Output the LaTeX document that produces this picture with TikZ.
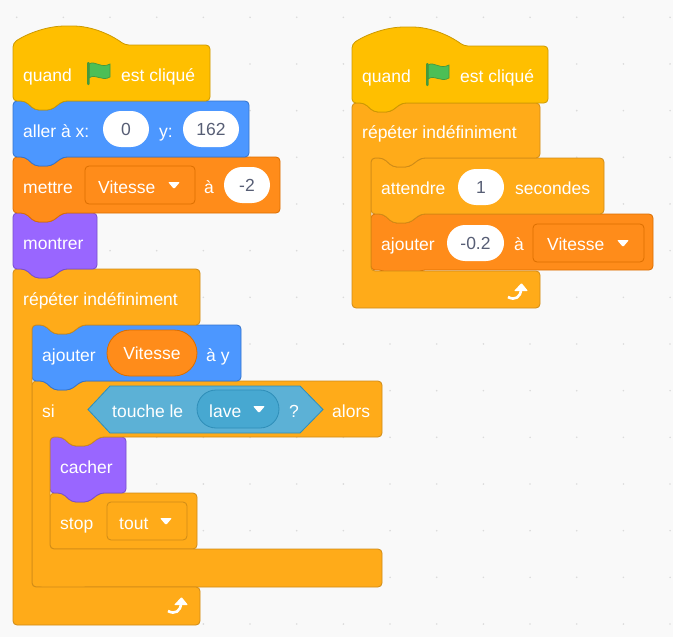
\documentclass[tikz,border=0pt]{standalone}
\usepackage{fontspec}
\setmainfont{Liberation Sans}
\usetikzlibrary{shapes.geometric}
\definecolor{hat-color}{HTML}{FFBF00}
\definecolor{hat-line}{HTML}{CC9900}
\definecolor{motion-color}{HTML}{4C97FF}
\definecolor{motion-line}{HTML}{3373CC}
\definecolor{var-color}{HTML}{FF8C1A}
\definecolor{var-line}{HTML}{DB6E00}
\definecolor{looks-color}{HTML}{9966FF}
\definecolor{looks-line}{HTML}{774DCB}
\definecolor{control-color}{HTML}{FFAB19}
\definecolor{control-line}{HTML}{CF8B17}
\definecolor{sense-color}{HTML}{5CB1D6}
\definecolor{sense-dark}{HTML}{47A8D1}
\definecolor{sense-line}{HTML}{2E8EB8}
\definecolor{value-color}{HTML}{575E75}
\tikzstyle{hatblock} = [fill=hat-color, draw=hat-line, line width=0.8pt]
\tikzstyle{motionblock} = [fill=motion-color, draw=motion-line, line width=0.8pt]
\tikzstyle{varblock} = [fill=var-color, draw=var-line, line width=0.8pt]
\tikzstyle{looksblock} = [fill=looks-color, draw=looks-line, line width=0.8pt]
\tikzstyle{controlblock} = [fill=control-color, draw=control-line, line width=0.8pt]
\tikzstyle{blocktext} = [anchor=base west, inner sep=0pt, text=white, font=\fontsize{17.5}{20}\selectfont]
\tikzstyle{numfield} = [rectangle, rounded corners=18pt, fill=white, minimum height=36pt, inner sep=0pt, text=value-color, font=\fontsize{17.5}{20}\selectfont, text height=12.5pt, text depth=0pt]
\tikzstyle{varfield} = [numfield, fill=var-color, draw=var-line, text=white, line width=0.8pt, minimum height=46pt, rounded corners=23pt]
\tikzstyle{menubox} = [rectangle, rounded corners=4pt, line width=0.8pt, minimum height=38pt, inner sep=0pt]
\newcommand{\notchedge}[2]{-- (#1+12,#2) -- (#1+22,#2+9) -- (#1+38,#2+9) -- (#1+50,#2)}
\newcommand{\tabedge}[2]{-- (#1+50,#2) -- (#1+38,#2+9) -- (#1+22,#2+9) -- (#1+12,#2)}
\newcommand{\stackblock}[5]{\draw[#5, rounded corners=4pt] (#1,#2) \notchedge{#1}{#2} -- (#3,#2) -- (#3,#4) \tabedge{#1}{#4} -- (#1,#4) -- cycle;}
\newcommand{\capblock}[5]{\draw[#5, rounded corners=4pt] (#1,#2) \notchedge{#1}{#2} -- (#3,#2) -- (#3,#4) -- (#1,#4) -- cycle;}
\newcommand{\hatshape}[5]{\draw[#5, rounded corners=4pt] (#1,#2-2) .. controls (#1+15,#2-12) and (#1+35,#2-19) .. (#1+56,#2-19) .. controls (#1+78,#2-19) and (#1+97,#2-11) .. (#1+112,#2) -- (#3,#2) -- (#3,#4) \tabedge{#1}{#4} -- (#1,#4) -- cycle;}
\newcommand{\cblock}[9]{\draw[#8, rounded corners=4pt] (#1,#2) \notchedge{#1}{#2} -- (#3,#2) -- (#3,#4) \tabedge{#5}{#4} -- (#5,#4) -- (#5,#6) -- (#3,#6) -- (#3,#7) #9 -- (#1,#7) -- cycle;}
\newcommand{\greenflag}[2]{\begin{scope}[shift={(#1,#2)}]
    \draw[fill=green!55!black!60!white, fill=green-flag, draw=green-flag-line, line width=0.7pt] (2,2) .. controls (8,-2) and (14,7) .. (23,2) -- (23,15) .. controls (15,20) and (8,11) .. (2,16) -- cycle;
    \fill[green-flag-line, rounded corners=1pt] (0,0) rectangle (2.6,23);
  \end{scope}}
\definecolor{green-flag}{HTML}{4CBF56}
\definecolor{green-flag-line}{HTML}{45993D}
\newcommand{\menuarrow}[2]{\fill[white, rounded corners=1pt] (#1,#2) -- (#1+12,#2) -- (#1+6,#2+7) -- cycle;}
\newcommand{\loopicon}[2]{\begin{scope}[shift={(#1,#2)}]
    \draw[white, line width=2.6pt] (0,14) .. controls (7,18) and (13,14) .. (13,6);
    \fill[white, rounded corners=0.8pt] (6,8) -- (13.5,0) -- (20,8) -- cycle;
  \end{scope}}
\begin{document}
\begin{tikzpicture}[x=1pt, y=-1pt]
    \fill[black!2.5] (0,0) rectangle (673,637);
    \foreach \i in {0,...,14}
      \foreach \j in {0,...,13}
        \fill[black!14] (16.7+46.67*\i,17.3+46.67*\j) circle (0.9pt);

    % left stack
    \capblock{50}{493}{197}{549}{controlblock}
    \stackblock{50}{437}{126}{493}{looksblock}
    \cblock{32}{381}{382}{437}{50}{549}{587}{controlblock}{\tabedge{32}{587}}
    \stackblock{32}{325}{241}{381}{motionblock}
    \cblock{13}{269}{200}{325}{32}{587}{625}{controlblock}{}
    \stackblock{13}{213}{97}{269}{looksblock}
    \stackblock{13}{157}{280}{213}{varblock}
    \stackblock{13}{101}{249}{157}{motionblock}
    \hatshape{13}{45}{210}{101}{hatblock}

    \node[blocktext] (quandA) at (23,81) {quand};
    \greenflag{87}{62}
    \node[blocktext] (cliqueA) at (121,81) {est cliqué};
    \node[blocktext] (allerx) at (23,137) {aller à x:};
    \node[numfield, minimum width=46pt] (xfield) at (126,129) {0};
    \node[blocktext] (allery) at (159,137) {y:};
    \node[numfield, minimum width=56pt] (yfield) at (211,129) {162};
    \node[blocktext] (mettre) at (23,193) {mettre};
    \node[menubox, fill=var-color, draw=var-line, minimum width=110pt] (vitesseA) at (140,185) {};
    \node[blocktext] (vitesseAtext) at (98,193) {Vitesse};
    \menuarrow{168}{182}
    \node[blocktext] (aA) at (204,193) {à};
    \node[numfield, minimum width=46pt] (mettrefield) at (247,185) {-2};
    \node[blocktext] (montrer) at (23,249) {montrer};
    \node[blocktext] (repeterA) at (23,305) {répéter indéfiniment};
    \node[blocktext] (ajouterA) at (42,361) {ajouter};
    \node[varfield, minimum width=90pt] (vitesseB) at (152,353) {Vitesse};
    \node[blocktext] (ay) at (206,361) {à y};
    \node[blocktext] (si) at (42,417) {si};
    \node[regular polygon, regular polygon sides=4, minimum size=0pt, inner sep=0pt] (hexanchor) at (205,409) {};
    \draw[fill=sense-color, draw=sense-line, line width=0.8pt] (88,409.5) -- (110,386) -- (300,386) -- (323,409.5) -- (300,433) -- (110,433) -- cycle;
    \node[blocktext] (touche) at (112,417) {touche le};
    \node[rectangle, rounded corners=19pt, fill=sense-dark, draw=sense-line, line width=0.8pt, minimum width=82pt, minimum height=38pt] (lave) at (238,409) {};
    \node[blocktext] (lavetext) at (209,417) {lave};
    \menuarrow{253}{406}
    \node[blocktext] (question) at (289,417) {?};
    \node[blocktext] (alors) at (332,417) {alors};
    \node[blocktext] (cacher) at (60,473) {cacher};
    \node[blocktext] (stop) at (60,529) {stop};
    \node[menubox, fill=control-color, draw=control-line, minimum width=80pt] (tout) at (147,521) {};
    \node[blocktext] (touttext) at (119,529) {tout};
    \menuarrow{160}{518}
    \loopicon{168}{597}

    % right stack
    \stackblock{371}{214}{653}{270}{varblock}
    \stackblock{371}{158}{604}{214}{controlblock}
    \cblock{352}{103}{540}{158}{371}{271}{308}{controlblock}{}
    \hatshape{352}{46}{548}{103}{hatblock}

    \node[blocktext] (quandB) at (362,82) {quand};
    \greenflag{426}{63}
    \node[blocktext] (cliqueB) at (460,82) {est cliqué};
    \node[blocktext] (repeterB) at (362,138) {répéter indéfiniment};
    \node[blocktext] (attendre) at (381,194) {attendre};
    \node[numfield, minimum width=46pt] (attendrefield) at (481,187) {1};
    \node[blocktext] (secondes) at (515,194) {secondes};
    \node[blocktext] (ajouterB) at (381,250) {ajouter};
    \node[numfield, minimum width=57pt] (ajouterfield) at (475.5,243) {-0.2};
    \node[blocktext] (aB) at (514,250) {à};
    \node[menubox, fill=var-color, draw=var-line, minimum width=111pt] (vitesseC) at (588.5,243) {};
    \node[blocktext] (vitesseCtext) at (547,250) {Vitesse};
    \menuarrow{617}{240}
    \loopicon{508}{283}
\end{tikzpicture}
\end{document}
